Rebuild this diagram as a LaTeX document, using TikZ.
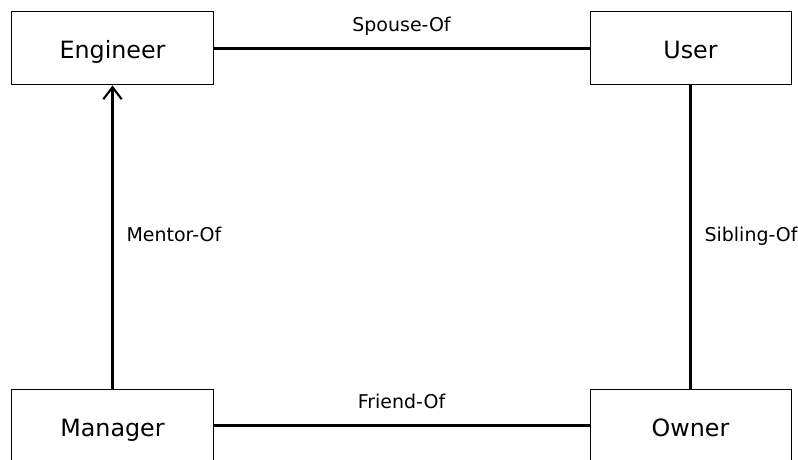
\documentclass[tikz,border=0pt]{standalone}
\usepackage{fontspec}
\setmainfont{DejaVu Sans}
\usetikzlibrary{positioning,arrows.meta}

\begin{document}
\begin{tikzpicture}[x=0.03cm, y=-0.03cm, node distance=11.31cm, auto,
    entity/.style={rectangle, draw, line width=0.85pt, minimum width=6.03cm, minimum height=2.19cm, text height=0.63cm, text depth=0pt, font=\fontsize{20.3}{24}\selectfont},
    rel/.style={inner sep=0pt, text height=0.43cm, text depth=0.14cm, font=\fontsize{16.2}{19}\selectfont},
    line/.style={draw, line width=1.8pt}]

    \useasboundingbox (0,0) rectangle (798,460);

    \node [entity] (eng) at (112.5,48.5) {Engineer};
    \node [entity, right of=eng, node distance=17.34cm] (user) {User};
    \node [entity, below of=eng] (mgr) {Manager};
    \node [entity, below of=user] (own) {Owner};

    \draw [line] (eng) -- node[rel, above=0.34cm] {Spouse-Of} (user);
    \draw [line, -{Straight Barb[length=0.36cm, width=0.55cm]}] (mgr) -- node[rel, right=0.39cm] {Mentor-Of} (eng);
    \draw [line] (user) -- node[rel, right=0.39cm] {Sibling-Of} (own);
    \draw [line] (mgr) -- node[rel, above=0.34cm] {Friend-Of} (own);
\end{tikzpicture}
\end{document}
